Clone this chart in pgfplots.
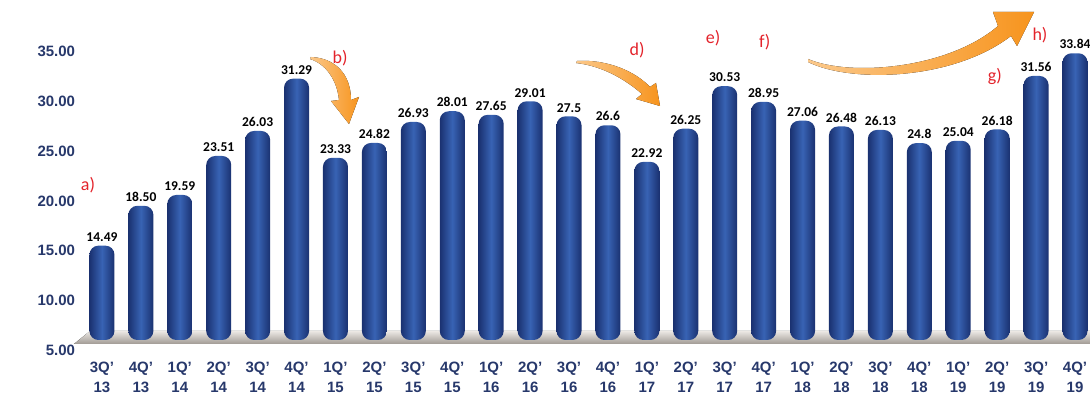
\documentclass[border=0pt]{standalone}
\usepackage{pgfplots}
\pgfplotsset{compat=1.18}
\usepackage{pgfplotstable}
\usepackage{fontspec}
\setmainfont{Liberation Sans}
\newfontfamily\calibri{Carlito}
\usetikzlibrary{arrows.meta,backgrounds}
\definecolor{navy}{HTML}{27386B}
\definecolor{bardark}{HTML}{1A3170}
\definecolor{barlight}{HTML}{3863B4}
\definecolor{anno}{HTML}{E3232B}
\definecolor{arrowc}{HTML}{F7941D}
\definecolor{arrowl}{HTML}{FBC88A}
\definecolor{floortop}{HTML}{ECE8E4}
\definecolor{floorbot}{HTML}{A09A94}

\pgfplotstableread{
x y lab
0 14.49 14.49
1 18.50 18.50
2 19.59 19.59
3 23.51 23.51
4 26.03 26.03
5 31.29 31.29
6 23.33 23.33
7 24.82 24.82
8 26.93 26.93
9 28.01 28.01
10 27.65 27.65
11 29.01 29.01
12 27.5 27.5
13 26.6 26.6
14 22.92 22.92
15 26.25 26.25
16 30.53 30.53
17 28.95 28.95
18 27.06 27.06
19 26.48 26.48
20 26.13 26.13
21 24.8 24.8
22 25.04 25.04
23 26.18 26.18
24 31.56 31.56
25 33.84 33.84
}\data

\begin{document}
\begin{tikzpicture}
\begin{axis}[
  clip mode=individual,
  scale only axis,
  width=1012pt, height=338pt,
  xmin=-0.6, xmax=25.4, ymin=5, ymax=39,
  axis line style={draw=none},
  major tick length=0pt,
  ytick={5,10,...,35},
  /pgf/number format/assume math mode=true,
  /pgf/number format/fixed,
  /pgf/number format/fixed zerofill,
  /pgf/number format/precision=2,
  yticklabel style={font=\bfseries\fontsize{15}{18}\selectfont, text=navy, yshift=-10pt},
  xtick={0,...,25},
  xticklabels={{3Q'\\13},{4Q'\\13},{1Q'\\14},{2Q'\\14},{3Q'\\14},{4Q'\\14},{1Q'\\15},{2Q'\\15},{3Q'\\15},{4Q'\\15},{1Q'\\16},{2Q'\\16},{3Q'\\16},{4Q'\\16},{1Q'\\17},{2Q'\\17},{3Q'\\17},{4Q'\\17},{1Q'\\18},{2Q'\\18},{3Q'\\18},{4Q'\\18},{1Q'\\19},{2Q'\\19},{3Q'\\19},{4Q'\\19}},
  xticklabel style={align=center, font=\bfseries\fontsize{15}{20}\selectfont, text=navy, yshift=-18pt},
]
\pgfplotsinvokeforeach{0,...,25}{
\addplot[ybar, bar width=25pt, draw=none, left color=bardark, right color=bardark, middle color=barlight, rounded corners=9pt,
  x filter/.expression={x==#1 ? x : nan},
  nodes near coords, point meta=explicit symbolic,
  every node near coord/.append style={font=\calibri\bfseries\fontsize{13.5}{15}\selectfont, text=black, inner sep=1pt, yshift=3pt}]
  table[x=x,y=y,meta=lab]{\data};
}

\tikzset{annot/.style={font=\calibri\fontsize{18}{20}\selectfont, text=anno}}
\node[annot] at (axis cs:-0.36,20.6) {a)};
\node[annot] at (axis cs:6.12,33.4) {b)};
\node[annot] at (axis cs:13.75,34.2) {d)};
\node[annot] at (axis cs:15.7,35.4) {e)};
\node[annot] at (axis cs:17.03,35.0) {f)};
\node[annot] at (axis cs:22.94,31.5) {g)};
\node[annot] at (axis cs:24.1,35.7) {h)};
\end{axis}
% decorations drawn in picture pixel coordinates (origin top-left of the picture)
\begin{scope}[shift={(current axis.south west)}]
\begin{scope}[shift={(-78.6pt,340pt)}, x=1pt, y=-1pt]
  \begin{scope}[on background layer]
    \fill[top color=floortop, bottom color=floorbot] (90,331) -- (1090,331) -- (1090,344) -- (74,344) -- cycle;
  \end{scope}
  % arrow b
  \fill[left color=arrowl, right color=arrowc] (311,57) .. controls (335,58) and (351,74) .. (351,100)
     -- (359,97) -- (349,124) -- (331,101) -- (339,100) .. controls (337,80) and (326,64) .. (310,59) -- cycle;
  % arrow d
  \fill[left color=arrowl, right color=arrowc] (577,61) .. controls (608,59) and (636,72) .. (650,87)
     -- (656,83) -- (660,106) -- (636,99) -- (642,94) .. controls (626,80) and (603,66) .. (576,63) -- cycle;
  % arrow h
  \fill[left color=arrowl, right color=arrowc] (808,59) .. controls (850,77) and (948,69) .. (998,26)
     -- (993,12) -- (1034,12) -- (1017,46) -- (1011,36) .. controls (952,81) and (850,83) .. (808,62) -- cycle;
\end{scope}
\end{scope}
\pgfresetboundingbox
\path (current axis.south west) ++(-78.6pt,-58pt) rectangle ++(1090pt,398pt);
\end{tikzpicture}
\end{document}
